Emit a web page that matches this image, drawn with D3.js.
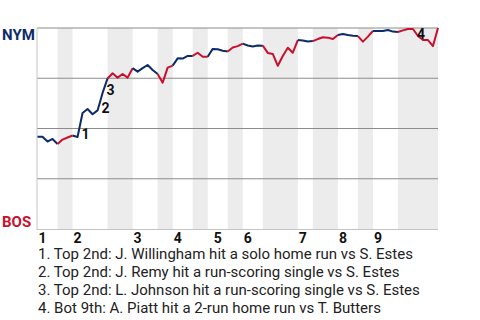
<!DOCTYPE html>
<html>
<head>
<meta charset="utf-8">
<script src="https://cdn.jsdelivr.net/npm/d3@7"></script>
<style>
  body { margin: 0; background: #fff; }
  text { font-family: Roboto, "Noto Sans", sans-serif; }
</style>
</head>
<body>
<div id="chart"></div>
<script>
// NYM win probability after each play (0 = BOS wins, 1 = NYM wins)
var winProb = [
  0.459, 0.459, 0.435, 0.448, 0.423, 0.445, 0.455, 0.465, 0.458, 0.577,
  0.597, 0.571, 0.590, 0.677, 0.749, 0.775, 0.753, 0.771, 0.753, 0.800,
  0.783, 0.800, 0.816, 0.791, 0.771, 0.728, 0.803, 0.813, 0.849, 0.848,
  0.861, 0.861, 0.877, 0.857, 0.857, 0.896, 0.894, 0.887, 0.883, 0.903,
  0.910, 0.922, 0.913, 0.908, 0.913, 0.912, 0.876, 0.871, 0.812, 0.861,
  0.902, 0.877, 0.940, 0.938, 0.933, 0.935, 0.945, 0.954, 0.952, 0.945,
  0.965, 0.970, 0.965, 0.962, 0.960, 0.932, 0.957, 0.985, 0.985, 0.985,
  0.990, 0.982, 0.980, 0.988, 0.995, 0.995, 0.960, 0.940, 0.940, 0.910,
  1.000
];

// play index where each half inning starts (top 1st, bot 1st, top 2nd, ...)
var halfStarts = [0, 4, 7, 14, 19, 24, 27, 31, 34, 38, 41, 45, 52, 55, 60, 64, 67, 72, 80];

// inning numbers along the bottom and the play they sit at
var innings = ["1", "2", "3", "4", "5", "6", "7", "8", "9"];
var inningPlays = [0, 7, 19, 27, 35, 41, 52, 60, 67];

// key plays
var eventPlays = [8, 12, 13, 75];
var eventTexts = [
  "1. Top 2nd: J. Willingham hit a solo home run vs S. Estes",
  "2. Top 2nd: J. Remy hit a run-scoring single vs S. Estes",
  "3. Top 2nd: L. Johnson hit a run-scoring single vs S. Estes",
  "4. Bot 9th: A. Piatt hit a 2-run home run vs T. Butters"
];

var teams = ["NYM", "BOS"];

var navy = "#0b2b6b", red = "#c8102e";

const width = 480, height = 320;

const svg = d3.select("#chart")
  .append("svg")
    .attr("width", width)
    .attr("height", height);

const x = d3.scaleLinear().domain([0, winProb.length - 1]).range([37.5, 438]);
const y = d3.scaleLinear().domain([0, 1]).range([229, 28]);

// half innings as [start, end, isBottom]
var halves = d3.pairs(halfStarts).map(function(p, k) { return {a: p[0], b: p[1], bottom: k % 2 == 1}; });

// gray bands for the bottom halves
svg.append("g")
  .selectAll("rect")
  .data(halves.filter(function(h) { return h.bottom; }))
  .join("rect")
    .attr("x", function(h) { return x(h.a); })
    .attr("width", function(h) { return x(h.b) - x(h.a); })
    .attr("y", y(1))
    .attr("height", y(0) - y(1))
    .attr("fill", "#ececec");

// grid lines
svg.append("g")
  .selectAll("line")
  .data([0.25, 0.5, 0.75, 1])
  .join("line")
    .attr("x1", 37).attr("x2", x.range()[1])
    .attr("y1", function(d) { return y(d); })
    .attr("y2", function(d) { return y(d); })
    .attr("stroke", "#8c8c8c")
    .attr("stroke-width", 1.2);

// left + bottom axis lines
svg.append("line")
  .attr("x1", 37).attr("x2", 37)
  .attr("y1", y(1)).attr("y2", y(0) + 1)
  .attr("stroke", "#c4c4c4");
svg.append("line")
  .attr("x1", 37).attr("x2", x.range()[1])
  .attr("y1", y(0) + 0.5).attr("y2", y(0) + 0.5)
  .attr("stroke", "#c4c4c4");

// the line, one piece per half inning
const line = d3.line()
  .x(function(i) { return x(i); })
  .y(function(i) { return y(winProb[i]); });

svg.append("g")
  .selectAll("path")
  .data(halves)
  .join("path")
    .attr("fill", "none")
    .attr("stroke", function(h) { return h.bottom ? red : navy; })
    .attr("stroke-width", 2)
    .attr("stroke-linejoin", "round")
    .attr("d", function(h) { return line(d3.range(h.a, h.b + 1)); });

// event numbers next to the line
svg.append("g")
  .selectAll("text")
  .data(eventPlays)
  .join("text")
    .attr("x", function(i) { return x(i) + 4; })
    .attr("y", function(i) { return Math.max(y(winProb[i]), y(winProb[i + 1])) + 2.5; })
    .attr("font-size", 14)
    .attr("font-weight", "bold")
    .attr("fill", "#111")
    .text(function(d, k) { return k + 1; });

// team names
svg.append("text")
  .attr("x", 2).attr("y", 40)
  .attr("font-size", 15).attr("font-weight", "bold")
  .attr("fill", navy)
  .text(teams[0]);
svg.append("text")
  .attr("x", 2).attr("y", 227)
  .attr("font-size", 15).attr("font-weight", "bold")
  .attr("fill", red)
  .text(teams[1]);

// inning numbers
svg.append("g")
  .selectAll("text")
  .data(innings)
  .join("text")
    .attr("x", function(d, k) { return x(inningPlays[k]) + 1; })
    .attr("y", 243)
    .attr("font-size", 14)
    .attr("font-weight", "bold")
    .attr("fill", "#111")
    .text(function(d) { return d; });

// event list
svg.append("g")
  .selectAll("text")
  .data(eventTexts)
  .join("text")
    .attr("x", 38)
    .attr("y", function(d, k) { return 259 + k * 18; })
    .attr("font-size", 15)
    .attr("fill", "#222")
    .text(function(d) { return d; });
</script>
</body>
</html>
